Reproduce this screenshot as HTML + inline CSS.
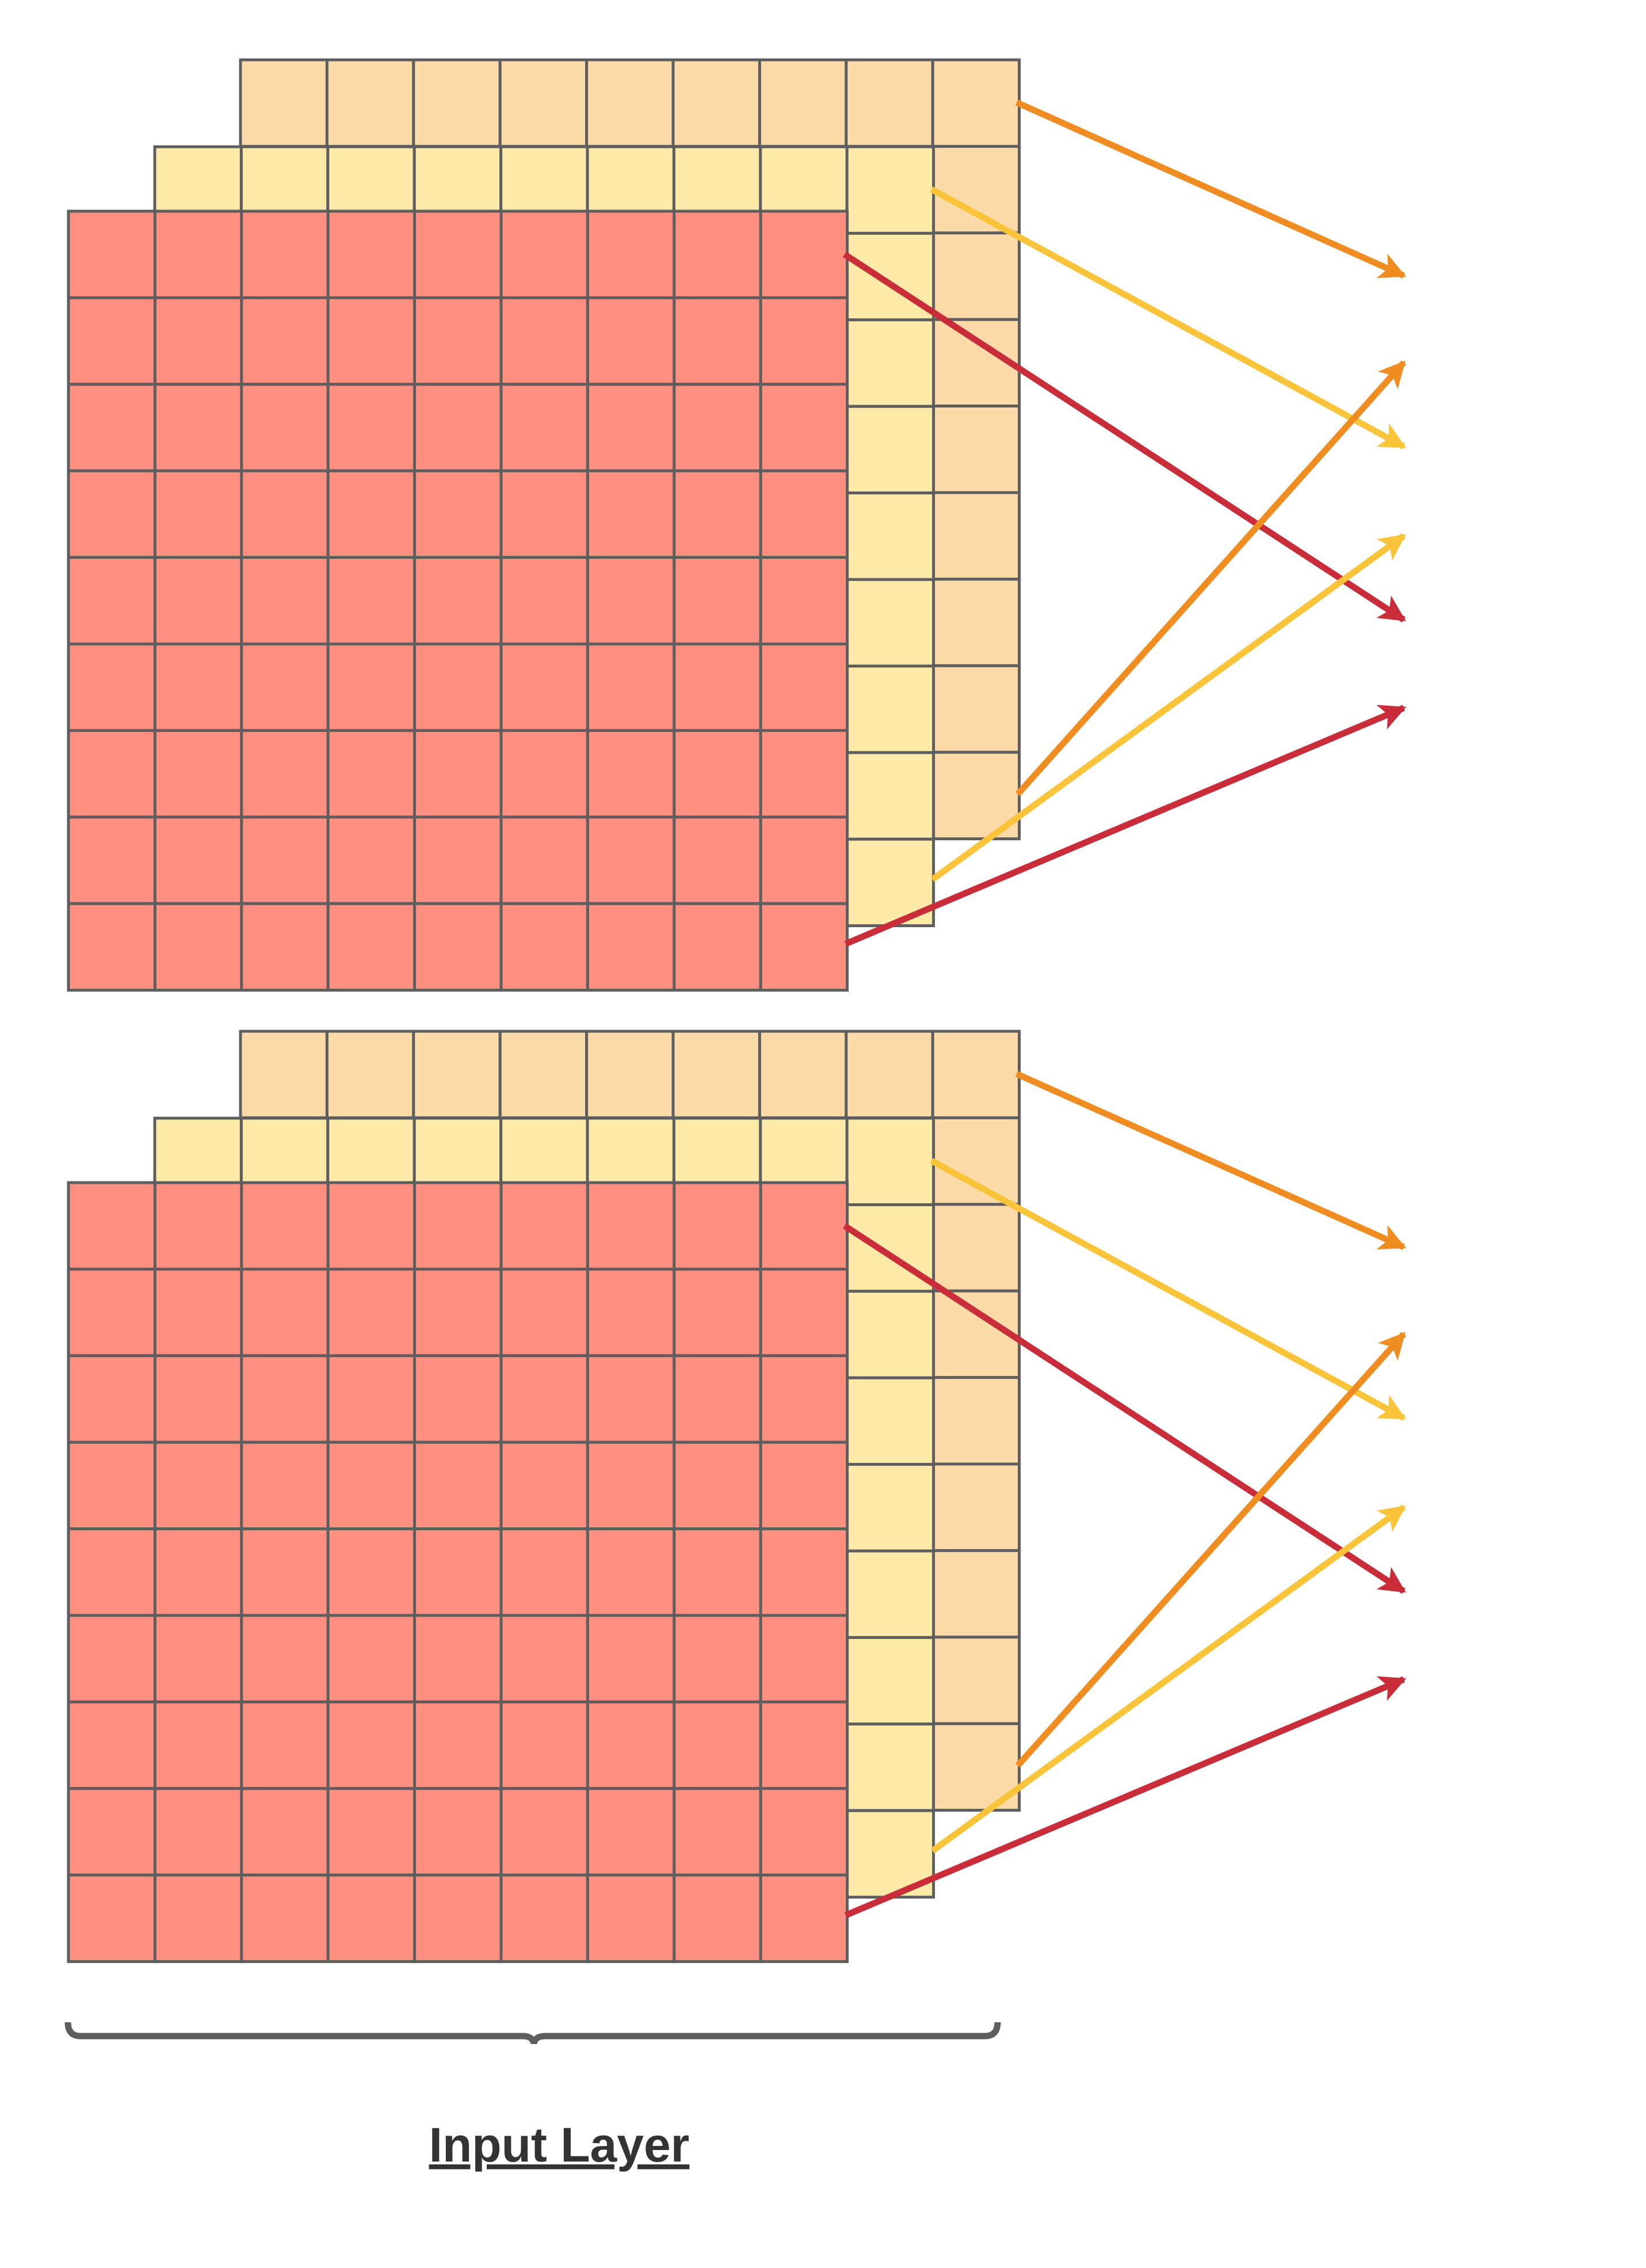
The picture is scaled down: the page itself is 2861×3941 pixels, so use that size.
<!DOCTYPE html>
<html><head><meta charset="utf-8"><style>
html,body{margin:0;padding:0;background:#fff;}
svg{display:block;}
</style></head><body>
<svg id="chart" width="2861" height="3941" viewBox="0 0 2861 3941" xmlns="http://www.w3.org/2000/svg">
<defs>
<marker id="m-orange" viewBox="0 0 10 10" refX="9" refY="5" markerWidth="5" markerHeight="4.2" orient="auto" markerUnits="strokeWidth"><path d="M0,0 L10,5 L0,10 L2.5,5 z" fill="#EF8D22"/></marker>
<marker id="m-yellow" viewBox="0 0 10 10" refX="9" refY="5" markerWidth="5" markerHeight="4.2" orient="auto" markerUnits="strokeWidth"><path d="M0,0 L10,5 L0,10 L2.5,5 z" fill="#F9C33A"/></marker>
<marker id="m-red" viewBox="0 0 10 10" refX="9" refY="5" markerWidth="5" markerHeight="4.2" orient="auto" markerUnits="strokeWidth"><path d="M0,0 L10,5 L0,10 L2.5,5 z" fill="#C92D39"/></marker>
</defs>
<g id="content"></g>
<path d="M118,3514 Q118,3538 140,3538 L908,3538 Q926,3538 928,3551 Q930,3538 948,3538 L1712,3538 Q1734,3538 1734,3514" fill="none" stroke="#5E5E5E" stroke-width="11"/>
<text x="972" y="3756" text-anchor="middle" font-family="Liberation Sans, sans-serif" font-weight="bold" font-size="84" fill="#333333" text-decoration="underline">Input Layer</text>
</svg>
<script>
const NS='http://www.w3.org/2000/svg';
const root=document.getElementById('content');
const blockOffsets=[0,1688];
const cell=150.4, n=9;
const grids=[
 {name:'orange-channel-grid',x:418,y:104,fill:'#FDDBA9'},
 {name:'yellow-channel-grid',x:269,y:255,fill:'#FEEAA8'},
 {name:'red-channel-grid',x:119,y:367,fill:'#FF8F80'}
];
const arrows=[
 {name:'orange-arrow-1',c:'#EF8D22',m:'m-orange',x1:1767,y1:178,x2:2440,y2:479},
 {name:'yellow-arrow-1',c:'#F9C33A',m:'m-yellow',x1:1619,y1:329,x2:2440,y2:776},
 {name:'red-arrow-1',c:'#C92D39',m:'m-red',x1:1468,y1:442,x2:2440,y2:1077},
 {name:'orange-arrow-2',c:'#EF8D22',m:'m-orange',x1:1769,y1:1380,x2:2440,y2:630},
 {name:'yellow-arrow-2',c:'#F9C33A',m:'m-yellow',x1:1621,y1:1528,x2:2440,y2:931},
 {name:'red-arrow-2',c:'#C92D39',m:'m-red',x1:1470,y1:1640,x2:2440,y2:1230}
];
blockOffsets.forEach((off,bi)=>{
 const g=document.createElementNS(NS,'g');
 
 
 root.appendChild(g);
 grids.forEach(gr=>{
  const gg=document.createElementNS(NS,'g');
  
  
  for(let r=0;r<n;r++)for(let c=0;c<n;c++){
   const rc=document.createElementNS(NS,'rect');
   rc.setAttribute('x',gr.x+c*cell);rc.setAttribute('y',gr.y+off+r*cell);
   rc.setAttribute('width',cell);rc.setAttribute('height',cell);
   rc.setAttribute('fill',gr.fill);rc.setAttribute('stroke','#5E5E5E');rc.setAttribute('stroke-width','5');
   
   
   gg.appendChild(rc);
  }
  g.appendChild(gg);
 });
 arrows.forEach(a=>{
  const l=document.createElementNS(NS,'line');
  l.setAttribute('x1',a.x1);l.setAttribute('y1',a.y1+off);
  l.setAttribute('x2',a.x2);l.setAttribute('y2',a.y2+off);
  l.setAttribute('stroke',a.c);l.setAttribute('stroke-width','11');
  l.setAttribute('marker-end','url(#'+a.m+')');
  
  
  g.appendChild(l);
 });
});
</script>
</body></html>
